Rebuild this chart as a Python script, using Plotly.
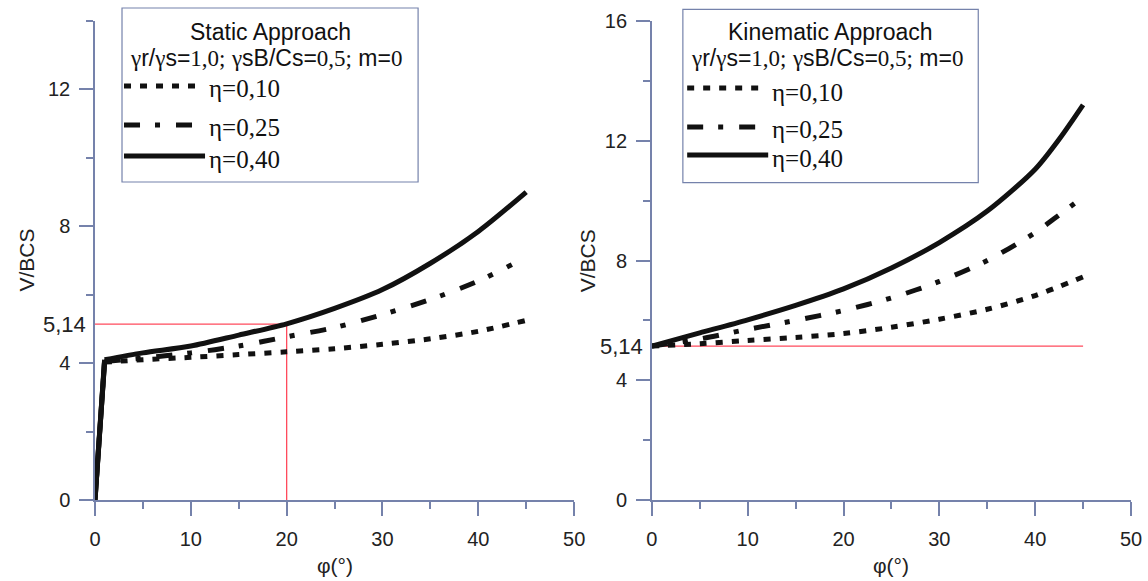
import plotly.graph_objects as go

# ---------------- data ----------------
phi_static_010 = [0, 1, 5, 10, 15, 20, 25, 30, 35, 40, 45]
v_static_010 = [0, 4.03, 4.1, 4.17, 4.25, 4.33, 4.42, 4.55, 4.71, 4.93, 5.25]
phi_static_025 = [0, 1, 5, 10, 15, 20, 25, 30, 35, 40, 43.5]
v_static_025 = [0, 4.05, 4.15, 4.3, 4.5, 4.77, 5.04, 5.42, 5.86, 6.4, 6.88]
phi_static_040 = [0, 1, 5, 10, 15, 20, 25, 30, 35, 40, 45]
v_static_040 = [0, 4.1, 4.3, 4.5, 4.82, 5.15, 5.6, 6.15, 6.92, 7.85, 9.0]

phi_kin_010 = [0, 5, 10, 15, 20, 25, 30, 35, 40, 45]
v_kin_010 = [5.14, 5.22, 5.33, 5.43, 5.56, 5.77, 6.04, 6.37, 6.83, 7.45]
phi_kin_025 = [0, 5, 10, 15, 20, 25, 30, 35, 40, 42, 44.3]
v_kin_025 = [5.14, 5.38, 5.7, 6.0, 6.33, 6.75, 7.3, 8.0, 8.93, 9.4, 9.95]
phi_kin_040 = [0, 5, 10, 15, 20, 25, 30, 35, 40, 42.5, 45]
v_kin_040 = [5.14, 5.58, 6.02, 6.5, 7.05, 7.75, 8.6, 9.65, 11.05, 12.05, 13.2]

# reference (red) lines
ref_static_h_x = [0, 20]
ref_static_h_y = [5.14, 5.14]
ref_static_v_x = [20, 20]
ref_static_v_y = [0, 5.14]
ref_kin_x = [0, 45]
ref_kin_y = [5.14, 5.14]

x_ticks = [0, 10, 20, 30, 40, 50]
x_minor = [5, 15, 25, 35, 45]
y_ticks_static = [0, 4, 8, 12]
y_ticks_kin = [0, 4, 8, 12, 16]
y_minor = [2, 6, 10, 14]
nc_label = "5,14"
nc_value = 5.14

series_labels = ["η=0,10", "η=0,25", "η=0,40"]

# ---------------- styles ----------------
AXC = "#7582ab"
RED = "#ff4a5c"
INK = "#111111"
SANS = "Liberation Sans, Arial, sans-serif"
SERIF = "Liberation Serif, Times New Roman, serif"
DOT = "7px,9px"
DASHDOT = "16px,15px,5px,16px"
styles = [dict(dash=DOT, width=5), dict(dash=DASHDOT, width=5), dict(dash="solid", width=5)]

# full-window figure (page margin removed in post_script)
OFF = 0
W, H = 1148, 581
ML, MT = 95, 21
PW, PH = 1035.7, 479
MR = W - ML - PW
MB = H - MT - PH


def px(xp):
    return (xp - OFF - ML) / PW


def py(yp):
    return (MT + PH - (yp - OFF)) / PH


fig = go.Figure()

# red reference lines
for xs, ys, xa, ya in [(ref_static_h_x, ref_static_h_y, "x", "y"),
                       (ref_static_v_x, ref_static_v_y, "x", "y"),
                       (ref_kin_x, ref_kin_y, "x2", "y2")]:
    fig.add_trace(go.Scatter(x=xs, y=ys, mode="lines", xaxis=xa, yaxis=ya,
                             line=dict(color=RED, width=1.3), showlegend=False,
                             hoverinfo="skip"))

static = [(phi_static_010, v_static_010), (phi_static_025, v_static_025), (phi_static_040, v_static_040)]
kin = [(phi_kin_010, v_kin_010), (phi_kin_025, v_kin_025), (phi_kin_040, v_kin_040)]

# static: steep linear rise (first two points) and smooth curve afterwards
for (xs, ys), st, name in zip(static, styles, series_labels):
    fig.add_trace(go.Scatter(x=xs[:2], y=ys[:2], mode="lines", xaxis="x", yaxis="y",
                             line=dict(color=INK, width=st["width"]), showlegend=False))
for (xs, ys), st, name in zip(static, styles, series_labels):
    fig.add_trace(go.Scatter(x=xs[1:], y=ys[1:], mode="lines", xaxis="x", yaxis="y", name=name,
                             line=dict(color=INK, width=st["width"], dash=st["dash"],
                                       shape="spline", smoothing=0.8),
                             showlegend=False))
for (xs, ys), st, name in zip(kin, styles, series_labels):
    fig.add_trace(go.Scatter(x=xs, y=ys, mode="lines", xaxis="x2", yaxis="y2", name=name,
                             line=dict(color=INK, width=st["width"], dash=st["dash"],
                                       shape="spline", smoothing=0.8),
                             showlegend=False))

xdom1 = [0, px(574)]
xdom2 = [px(651.7), 1]

xcommon = dict(range=[0, 50], tickvals=x_ticks, ticktext=[str(v) for v in x_ticks],
               showgrid=False, zeroline=False, showline=True, linecolor=AXC, linewidth=1.5,
               ticks="outside", ticklen=14, tickwidth=1.5, tickcolor=AXC,
               ticklabelstandoff=6,
               minor=dict(tickvals=x_minor, ticks="outside", ticklen=7, tickwidth=1.5, tickcolor=AXC),
               tickfont=dict(family=SANS, size=20, color="#222"))
ycommon = dict(showgrid=False, zeroline=False, showline=True, linecolor=AXC, linewidth=1.5,
               ticks="outside", ticklen=14, tickwidth=1.5, tickcolor=AXC,
               ticklabelstandoff=5,
               minor=dict(tickvals=y_minor, ticks="outside", ticklen=7, tickwidth=1.5, tickcolor=AXC),
               tickfont=dict(family=SANS, size=20, color="#222"))

fig.update_layout(
    width=W, height=H, margin=dict(l=ML, r=MR, t=MT, b=MB, autoexpand=False),
    paper_bgcolor="white", plot_bgcolor="white", showlegend=False,
    xaxis=dict(domain=xdom1, anchor="y", **xcommon),
    xaxis2=dict(domain=xdom2, anchor="y2", **xcommon),
    yaxis=dict(domain=[0, 1], anchor="x", range=[0, 14], tickvals=y_ticks_static,
               ticktext=[str(v) for v in y_ticks_static], **ycommon),
    yaxis2=dict(domain=[0, 1], anchor="x2", range=[0, 16], tickvals=y_ticks_kin,
                ticktext=[str(v) for v in y_ticks_kin], **ycommon),
)

ann = []
# 5,14 labels
for xr, yr in [("x domain", "y"), ("x2 domain", "y2")]:
    ann.append(dict(xref=xr, yref=yr, x=0, y=nc_value, text=nc_label, showarrow=False,
                    xanchor="right", yanchor="middle", xshift=-7,
                    font=dict(family=SANS, size=22, color="#222")))
# axis titles
for xr, shift in [("x domain", -69), ("x2 domain", -64)]:
    yr = "y domain" if xr == "x domain" else "y2 domain"
    ann.append(dict(xref=xr, yref=yr, x=0, y=0.5, text="V/BCS", textangle=-90, showarrow=False,
                    xanchor="center", yanchor="middle", xshift=shift,
                    font=dict(family=SANS, size=21, color="#222")))
    ann.append(dict(xref=xr, yref=yr, x=0.5, y=0, text="φ(°)", showarrow=False,
                    xanchor="center", yanchor="middle", yshift=-65,
                    font=dict(family=SANS, size=21, color="#222")))

G = "<span style='font-family:Liberation Serif'>γ</span>"


def sf(t):
    return "<span style='font-family:Liberation Serif'>" + t + "</span>"


subtitle = (G + "r/" + G + "s=" + sf("1,0;") + " " + G + "sB/Cs=" + sf("0,5;") + " m=" + sf("0"))

shapes = []
panels = [
    dict(box=(122, 8, 418, 182), title="Static Approach", tc=(270, 32), sc=(266, 58),
         sx=(124, 198), rows=(86, 125, 156), tx=207, trows=(89, 127, 159)),
    dict(box=(682.7, 9.3, 978, 182.7), title="Kinematic Approach", tc=(830, 32), sc=(826.5, 58),
         sx=(687, 761), rows=(88, 127, 155), tx=770, trows=(92, 129, 158)),
]
for p in panels:
    x0, y0, x1, y1 = p["box"]
    shapes.append(dict(type="rect", xref="paper", yref="paper", x0=px(x0), x1=px(x1),
                       y0=py(y1), y1=py(y0), line=dict(color=AXC, width=1.2),
                       fillcolor="white", layer="above"))
    ann.append(dict(xref="paper", yref="paper", x=px(p["tc"][0]), y=py(p["tc"][1]),
                    text=p["title"], showarrow=False, xanchor="center", yanchor="middle",
                    font=dict(family=SANS, size=23, color=INK)))
    ann.append(dict(xref="paper", yref="paper", x=px(p["sc"][0]), y=py(p["sc"][1]),
                    text=subtitle, showarrow=False, xanchor="center", yanchor="middle",
                    font=dict(family=SANS, size=23, color=INK)))
    for i, (st, lab) in enumerate(zip(styles, series_labels)):
        sx1 = p["sx"][1] + (7 if i == 2 else 0)
        shapes.append(dict(type="line", xref="paper", yref="paper", x0=px(p["sx"][0]),
                           x1=px(sx1), y0=py(p["rows"][i]), y1=py(p["rows"][i]),
                           line=dict(color=INK, width=st["width"], dash=st["dash"]),
                           layer="above"))
        ann.append(dict(xref="paper", yref="paper", x=px(p["tx"]), y=py(p["trows"][i]),
                        text=lab, showarrow=False, xanchor="left", yanchor="middle",
                        font=dict(family=SERIF, size=25, color=INK)))

fig.update_layout(annotations=ann, shapes=shapes)
fig.write_html(
    "out.html",
    config={"displayModeBar": False},
    post_script="document.body.style.margin='0';"
                "document.documentElement.style.overflow='hidden';"
                "document.body.style.overflow='hidden';",
)
